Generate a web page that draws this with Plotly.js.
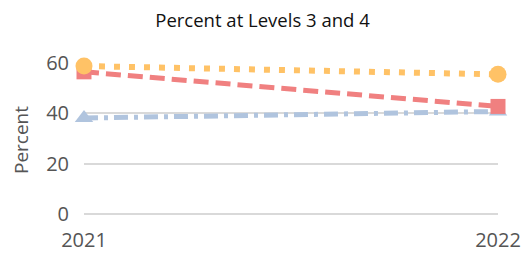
<!DOCTYPE html>
<html><head><meta charset="utf-8">
<script src="https://cdn.plot.ly/plotly-3.0.1.min.js"></script>
<style>body{margin:0;}#c{width:525px;height:253px;}</style>
</head><body><div id="c"></div>
<script>
var years = ['2021', '2022'];
var seriesA = [58.8, 55.5];
var seriesB = [56.5, 42.8];
var seriesC = [38.2, 40.8];
var yTicks = [0, 20, 40, 60];

var traces = [
  {x: years, y: seriesC, mode: 'lines+markers', cliponaxis: false,
   line: {color: '#B0C4DE', width: 5, dash: '14px,6px,4px,6px'},
   marker: {symbol: 'triangle-up', size: 16, color: '#B0C4DE'}},
  {x: years, y: seriesB, mode: 'lines+markers', cliponaxis: false,
   line: {color: '#F08080', width: 5, dash: '15px,7px'},
   marker: {symbol: 'square', size: 15, color: '#F08080'}},
  {x: years, y: seriesA, mode: 'lines+markers', cliponaxis: false,
   line: {color: '#FFC266', width: 6, dash: '6px,9px'},
   marker: {symbol: 'circle', size: 17, color: '#FFC266'}}
];

var layout = {
  width: 525, height: 253,
  margin: {l: 84, r: 27, t: 63, b: 35.5},
  paper_bgcolor: '#fff', plot_bgcolor: '#fff',
  showlegend: false,
  font: {family: 'Open Sans, Noto Sans, sans-serif', color: '#555'},
  title: {text: 'Percent at Levels 3 and 4', x: 0.5, xanchor: 'center', y: 0.92, yanchor: 'middle',
          font: {size: 18.5, color: '#111'}},
  xaxis: {type: 'category', range: [0, 1], showgrid: false, zeroline: false, showline: false,
          ticks: 'outside', ticklen: 5, tickcolor: 'rgba(0,0,0,0)',
          tickfont: {size: 20, color: '#555'}},
  yaxis: {range: [-1, 60], tickvals: yTicks, showgrid: true, gridcolor: '#d9d9d9', gridwidth: 2,
          zeroline: false, showline: false,
          ticks: 'outside', ticklen: 10, tickcolor: 'rgba(0,0,0,0)',
          tickfont: {size: 20, color: '#555'},
          title: {text: 'Percent', font: {size: 19, color: '#555'}, standoff: 12}}
};
Plotly.newPlot('c', traces, layout, {displayModeBar: false, staticPlot: true});
</script></body></html>
